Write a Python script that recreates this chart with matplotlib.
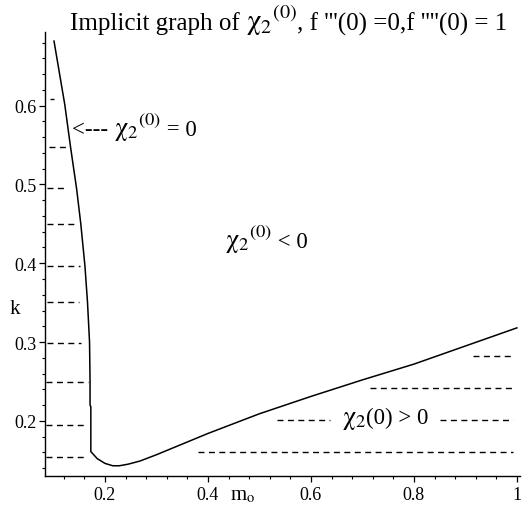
import matplotlib
matplotlib.use("Agg")
import matplotlib.pyplot as plt
from matplotlib.ticker import MultipleLocator
from matplotlib.offsetbox import TextArea, HPacker, AnnotationBbox

plt.rcParams['font.family'] = ['Liberation Serif', 'DejaVu Serif']
plt.rcParams['mathtext.fontset'] = 'stix'

# boundary curve chi_2(0) = 0
m_curve = [0.101, 0.122, 0.133, 0.145, 0.153, 0.161, 0.166, 0.170, 0.171, 0.171,
           0.1725, 0.1725, 0.185, 0.200, 0.215, 0.228, 0.245, 0.268, 0.300, 0.400, 0.500,
           0.600, 0.700, 0.800, 0.900, 1.000]
k_curve = [0.682, 0.601, 0.548, 0.494, 0.450, 0.397, 0.351, 0.300, 0.250, 0.220,
           0.218, 0.161, 0.152, 0.146, 0.143, 0.143, 0.145, 0.149, 0.157, 0.184, 0.209,
           0.231, 0.252, 0.272, 0.295, 0.318]

# dashed hatch segments: (k level, m start, m end)
hatch_k = [0.609, 0.548, 0.495, 0.450, 0.397, 0.351, 0.299, 0.249, 0.195, 0.154,
           0.282, 0.242, 0.201, 0.201, 0.161]
hatch_m0 = [0.093, 0.091, 0.087, 0.087, 0.087, 0.087, 0.087, 0.085, 0.085, 0.085,
            0.915, 0.715, 0.534, 0.850, 0.381]
hatch_m1 = [0.101, 0.133, 0.126, 0.148, 0.151, 0.150, 0.153, 0.167, 0.161, 0.161,
            0.992, 0.992, 0.637, 0.992, 0.992]

xticks = [0.2, 0.4, 0.6, 0.8, 1.0]
xticklabels = ['0.2', '0.4', '0.6', '0.8', '1']
yticks = [0.2, 0.3, 0.4, 0.5, 0.6]
yticklabels = ['0.2', '0.3', '0.4', '0.5', '0.6']

fig = plt.figure(figsize=(5.22, 5.06), dpi=100)
ax = fig.add_axes([45/522, 1-477/506, (520-45)/522, (477-33)/506])

ax.plot(m_curve, k_curve, color='black', lw=1.1)
for k, a, b in zip(hatch_k, hatch_m0, hatch_m1):
    ax.plot([a, b], [k, k], color='black', lw=1.0, dashes=(4.3, 3.2))

ax.set_xlim(0.0835, 1.006)
ax.set_ylim(0.130, 0.6935)

for s in ['top', 'right']:
    ax.spines[s].set_visible(False)
for s in ['left', 'bottom']:
    ax.spines[s].set_linewidth(1.0)

ax.set_xticks(xticks)
ax.set_xticklabels(xticklabels)
ax.set_yticks(yticks)
ax.set_yticklabels(yticklabels)
ax.xaxis.set_minor_locator(MultipleLocator(0.04))
ax.yaxis.set_minor_locator(MultipleLocator(0.02))
ax.tick_params(which='major', length=4, width=0.9, labelsize=13, pad=2)
ax.tick_params(which='minor', length=2.5, width=0.8)
ax.tick_params(axis='x', which='major', pad=3)


def rich(pieces, xy, coords, fs, white=False):
    kids = []
    for txt, scale in pieces:
        kids.append(TextArea(txt, textprops=dict(fontsize=fs * scale,
                                                 family=['Liberation Serif', 'DejaVu Serif'])))
    pack = HPacker(children=kids, align='baseline', pad=0, sep=0)
    ab = AnnotationBbox(pack, xy, xycoords=coords, frameon=white, box_alignment=(0, 0.5),
                        pad=0.05, annotation_clip=False,
                        bboxprops=dict(facecolor='white', edgecolor='none'))
    ax.add_artist(ab)


CHI0 = r'$\mathrm{\chi}_{2}{}^{(0)}$'
CHI = r'$\mathrm{\chi}_{2}$'
fs = 16.5
rich([('Implicit graph of ', 1.0), (CHI0, 1.15), (", f '''(0) =0,f ''''(0) = 1", 1.0)],
     (70/522, 1-21/506), 'figure fraction', 18)
rich([('<--- ', 1.0), (CHI0, 1.15), (' = 0', 1.0)], (0.136, 0.573), 'data', fs)
rich([(CHI0, 1.15), (' < 0', 1.0)], (0.433, 0.431), 'data', fs)
rich([(CHI, 1.15), ('(0) > 0', 1.0)], (0.660, 0.203), 'data', fs, white=True)

fig.text(15/522, 1-310/506, 'k', fontsize=15, ha='center', va='center')
fig.text(243/522, 1-496/506, r'm$_{\mathrm{o}}$', fontsize=15, ha='center', va='center')

fig.savefig('out.png', dpi=100, facecolor='white')
